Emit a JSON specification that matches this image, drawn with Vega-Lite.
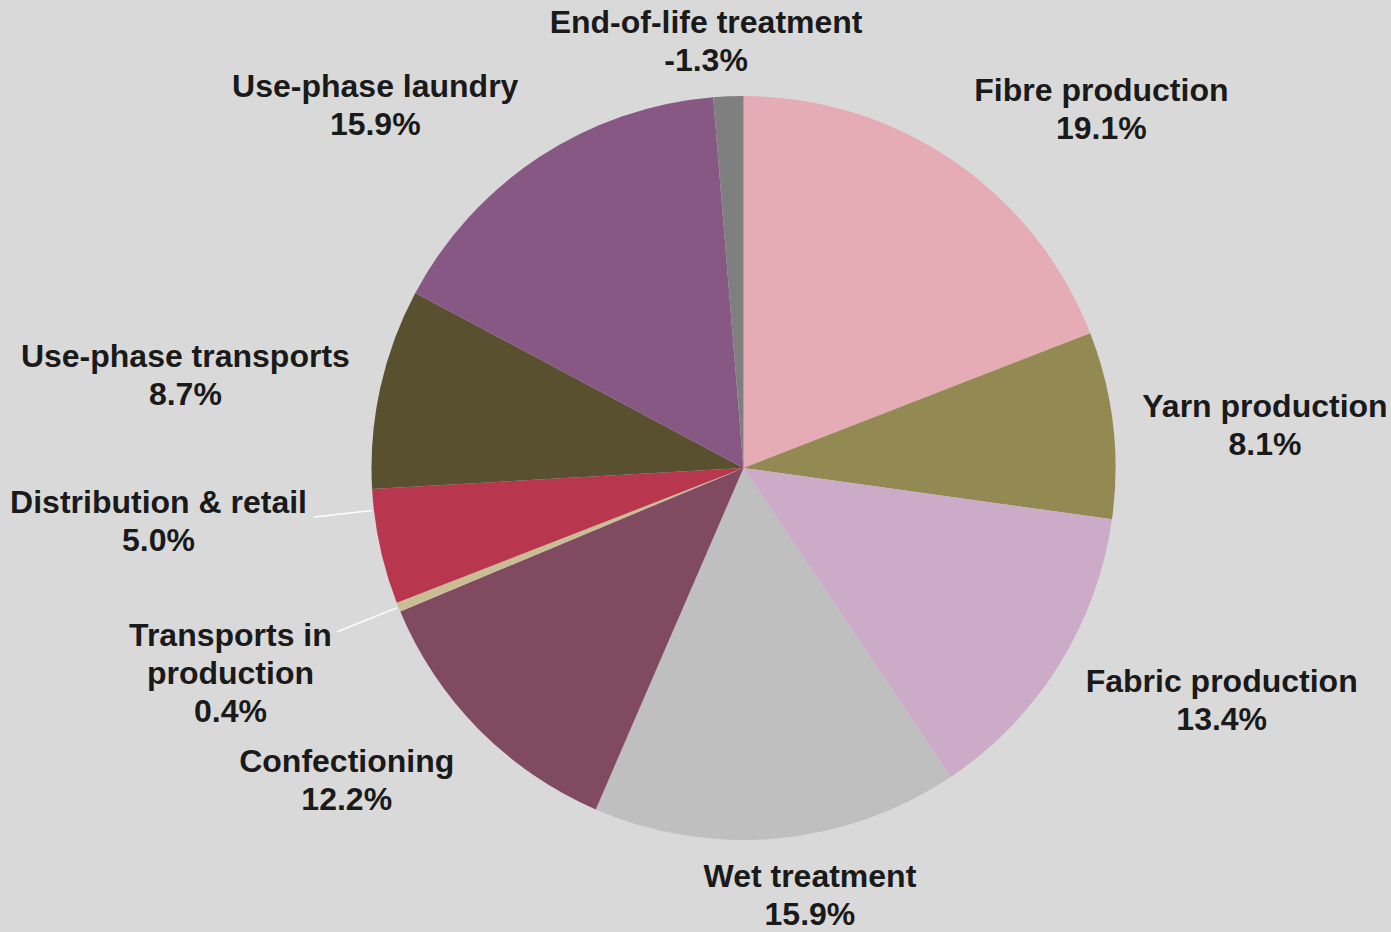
{
  "$schema": "https://vega.github.io/schema/vega-lite/v6.json",
  "autosize": "none",
  "width": 1295,
  "height": 928,
  "padding": {"left": 96, "top": 4, "right": 0, "bottom": 0},
  "background": "#d9d9d9",
  "view": {"stroke": null},
  "config": {
    "text": {
      "font": "Liberation Sans",
      "fontWeight": "bold",
      "fontSize": 32,
      "lineHeight": 38,
      "lineBreak": "\n",
      "align": "center",
      "baseline": "middle",
      "color": "#1a1a1a"
    }
  },
  "data": {
    "values": [
      {"idx": 1, "stage": "Fibre production", "value": 19.1},
      {"idx": 2, "stage": "Yarn production", "value": 8.1},
      {"idx": 3, "stage": "Fabric production", "value": 13.4},
      {"idx": 4, "stage": "Wet treatment", "value": 15.9},
      {"idx": 5, "stage": "Confectioning", "value": 12.2},
      {"idx": 6, "stage": "Transports in\nproduction", "value": 0.4},
      {"idx": 7, "stage": "Distribution & retail", "value": 5.0},
      {"idx": 8, "stage": "Use-phase transports", "value": 8.7},
      {"idx": 9, "stage": "Use-phase laundry", "value": 15.9},
      {"idx": 10, "stage": "End-of-life treatment", "value": -1.3}
    ]
  },
  "transform": [
    {"calculate": "abs(datum.value)", "as": "size"},
    {"calculate": "datum.stage + '\\n' + (datum.value < 0 ? '-' : '') + format(abs(datum.value), '.1f') + '%'", "as": "label"},
    {"stack": "size", "groupby": [], "sort": [{"field": "idx", "order": "ascending"}], "as": ["t0", "t1"]},
    {"calculate": "(datum.t0 + datum.t1) / 2", "as": "tmid"}
  ],
  "layer": [
    {
      "mark": {"type": "arc", "radius": 372, "stroke": null},
      "encoding": {
        "theta": {"field": "t0", "type": "quantitative", "stack": null, "scale": {"domain": [0, 100], "range": [0, 6.283185307179586]}},
        "theta2": {"field": "t1"},
        "color": {
          "field": "stage",
          "type": "nominal",
          "legend": null,
          "scale": {
            "domain": ["Fibre production", "Yarn production", "Fabric production", "Wet treatment", "Confectioning", "Transports in\nproduction", "Distribution & retail", "Use-phase transports", "Use-phase laundry", "End-of-life treatment"],
            "range": ["#e6acb6", "#938a53", "#cbabc8", "#bfbfbf", "#804a60", "#c9bd94", "#b8374f", "#595030", "#875883", "#7f7f7f"]
          }
        }
      }
    },
    {
      "encoding": {
        "theta": {"field": "tmid", "type": "quantitative", "stack": null, "scale": {"domain": [0, 100], "range": [0, 6.283185307179586]}},
        "theta2": {"field": "tmid"}
      },
      "layer": [
        {"transform": [{"filter": "datum.idx === 6"}], "mark": {"type": "arc", "radius": 438, "radius2": 374, "stroke": "#ffffff", "strokeWidth": 1.5, "fillOpacity": 0}},
        {"transform": [{"filter": "datum.idx === 7"}], "mark": {"type": "arc", "radius": 432, "radius2": 374, "thetaOffset": 0.1, "theta2Offset": 0.1, "stroke": "#ffffff", "strokeWidth": 1.5, "fillOpacity": 0}}
      ]
    },
    {
      "encoding": {
        "theta": {"field": "tmid", "type": "quantitative", "stack": null, "scale": {"domain": [0, 100], "range": [0, 6.283185307179586]}},
        "text": {"field": "label", "type": "nominal"}
      },
      "layer": [
        {"transform": [{"filter": "datum.idx === 1"}], "mark": {"type": "text", "radius": 520, "thetaOffset": 0.159}},
        {"transform": [{"filter": "datum.idx === 2"}], "mark": {"type": "text", "radius": 525}},
        {"transform": [{"filter": "datum.idx === 3"}], "mark": {"type": "text", "radius": 524, "thetaOffset": -0.138}},
        {"transform": [{"filter": "datum.idx === 4"}], "mark": {"type": "text", "radius": 414, "thetaOffset": -0.07}},
        {"transform": [{"filter": "datum.idx === 5"}], "mark": {"type": "text", "radius": 494, "thetaOffset": 0.141}},
        {"transform": [{"filter": "datum.idx === 6"}], "mark": {"type": "text", "radius": 540, "thetaOffset": 0.066}},
        {"transform": [{"filter": "datum.idx === 7"}], "mark": {"type": "text", "radius": 586, "thetaOffset": 0.154}},
        {"transform": [{"filter": "datum.idx === 8"}], "mark": {"type": "text", "radius": 569, "thetaOffset": -0.021}},
        {"transform": [{"filter": "datum.idx === 9"}], "mark": {"type": "text", "radius": 530, "thetaOffset": -0.187}},
        {"transform": [{"filter": "datum.idx === 10"}], "mark": {"type": "text", "radius": 447, "thetaOffset": -0.043}}
      ]
    }
  ]
}
